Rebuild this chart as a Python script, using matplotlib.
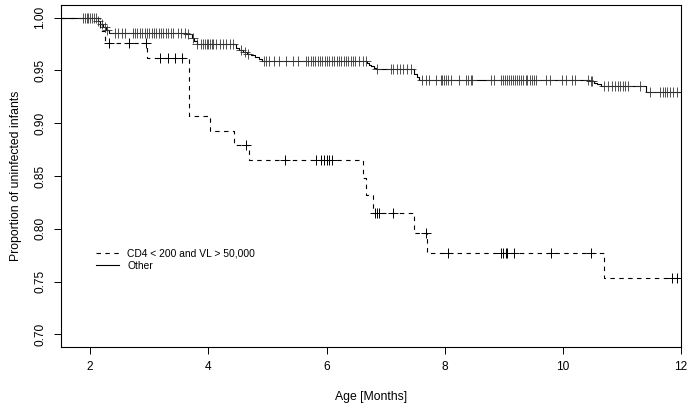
import numpy as np
import matplotlib
matplotlib.use("Agg")
import matplotlib.pyplot as plt

plt.rcParams['font.family'] = ['Liberation Sans', 'DejaVu Sans']

# ---- data ----
# Group "Other" (solid): step times and survival values
other_t = [1.5, 2.13, 2.17, 2.22, 2.27, 2.32, 3.45, 3.62, 3.72, 3.76, 3.80,
           4.46, 4.52, 4.58, 4.65, 4.72, 4.79, 4.86, 4.90,
           6.68, 6.72, 6.76, 6.80, 6.84, 7.48, 7.53, 7.57,
           10.45, 10.52, 10.58, 10.64, 11.40, 12.0]
other_s = [1.0, 0.997, 0.994, 0.991, 0.988, 0.9857, 0.9851, 0.9845, 0.981, 0.978, 0.9746,
           0.9716, 0.9690, 0.9675, 0.966, 0.9645, 0.9625, 0.9605, 0.9588,
           0.9572, 0.9556, 0.9540, 0.9525, 0.9509, 0.9462, 0.9438, 0.9414,
           0.9400, 0.9385, 0.9367, 0.9350, 0.9300, 0.9300]
other_cens = [1.88, 1.91, 1.94, 1.97, 2.00, 2.03, 2.06, 2.09, 2.13, 2.20, 2.25, 2.28,
              2.42, 2.47, 2.53, 2.59, 2.72, 2.76, 2.80, 2.84, 2.88, 2.92, 2.96, 3.00,
              3.04, 3.08, 3.12, 3.16, 3.20, 3.24, 3.28, 3.32, 3.36, 3.40, 3.48, 3.54,
              3.60, 3.66, 3.74, 3.80, 3.88, 3.91, 3.94, 3.97, 4.00, 4.03, 4.06, 4.08,
              4.13, 4.19, 4.25, 4.30, 4.36, 4.41, 4.56, 4.62, 4.67,
              4.94, 4.98, 5.03, 5.11, 5.20, 5.31, 5.43, 5.51,
              5.65, 5.69, 5.73, 5.77, 5.81, 5.85, 5.89, 5.93, 5.97, 6.01, 6.05, 6.09,
              6.13, 6.17, 6.21, 6.25, 6.29, 6.33, 6.37, 6.41, 6.44, 6.48, 6.55, 6.62, 6.67,
              6.86, 7.09, 7.13, 7.20, 7.25, 7.30, 7.36, 7.43,
              7.61, 7.68, 7.74, 7.85, 7.93, 7.96, 7.99, 8.02, 8.05, 8.10, 8.24,
              8.36, 8.40, 8.44, 8.47, 8.78, 8.84,
              8.95, 8.98, 9.02, 9.05, 9.09, 9.12, 9.16, 9.19, 9.23, 9.26, 9.30, 9.33,
              9.37, 9.40, 9.44, 9.47, 9.51, 9.54, 9.71, 9.79, 9.99, 10.05, 10.16, 10.21,
              10.43, 10.47, 10.50,
              10.69, 10.76, 10.83, 10.88, 10.93, 10.97, 11.02, 11.06, 11.11, 11.31,
              11.48, 11.65, 11.69, 11.73, 11.77, 11.81, 11.86, 11.93]

# Group "CD4 < 200 and VL > 50,000" (dashed)
cd4_t = [1.5, 2.16, 2.25, 2.96, 3.67, 4.02, 4.43, 4.68, 6.61, 6.66, 6.78,
         7.48, 7.70, 10.69, 12.0]
cd4_s = [1.0, 0.987, 0.9756, 0.9616, 0.9065, 0.893, 0.879, 0.8653, 0.848, 0.832, 0.8146,
         0.7956, 0.7766, 0.7529, 0.7529]
cd4_cens = [2.31, 2.65, 2.95, 3.18, 3.32, 3.43, 3.56, 4.63, 5.30,
            5.82, 5.90, 5.95, 6.00, 6.05, 6.10, 6.82, 6.85, 6.88, 7.12, 7.68, 8.06,
            8.95, 8.99, 9.03, 9.06, 9.17, 9.80, 10.47, 11.85, 11.93]

legend_labels = ["CD4 < 200 and VL > 50,000", "Other"]
x_ticks = [2, 4, 6, 8, 10, 12]
y_ticks = [0.70, 0.75, 0.80, 0.85, 0.90, 0.95, 1.00]


def surv_at(times, surv, pts):
    times = np.asarray(times)
    surv = np.asarray(surv)
    idx = np.searchsorted(times, np.asarray(pts), side='right') - 1
    return surv[idx]


fig = plt.figure(figsize=(6.91, 4.09), dpi=100)
ax = fig.add_axes([0.0878, 0.1516, 0.8977, 0.8362])

lw = 0.8
ax.step(cd4_t, cd4_s, where='post', color='black', lw=lw, linestyle=(0, (4, 4)),
        label=legend_labels[0])
ax.step(other_t, other_s, where='post', color='black', lw=lw, linestyle='-',
        label=legend_labels[1])
ax.plot(cd4_cens, surv_at(cd4_t, cd4_s, cd4_cens), linestyle='none', marker='+',
        markersize=7.5, markeredgewidth=0.7, color='black')
ax.plot(other_cens, surv_at(other_t, other_s, other_cens), linestyle='none', marker='+',
        markersize=7.5, markeredgewidth=0.6, color='#333333')

ax.set_xlim(1.5, 12)
ax.set_ylim(0.688, 1.012)
ax.set_xticks(x_ticks)
ax.set_xticklabels([str(v) for v in x_ticks])
ax.set_yticks(y_ticks)
ax.set_yticklabels([f"{v:.2f}" for v in y_ticks], rotation=90, va='center')
ax.tick_params(axis='both', direction='out', length=4.8, width=0.7, labelsize=8.6,
               pad=5.5)
for sp in ax.spines.values():
    sp.set_linewidth(0.8)

ax.set_xlabel("Age [Months]", fontsize=8.8, labelpad=13)
ax.set_ylabel("Proportion of uninfected infants", fontsize=8.8, labelpad=9)

leg = ax.legend(loc='upper left', bbox_to_anchor=(0.051, 0.30), frameon=False,
                fontsize=7.4, handlelength=2.2, handletextpad=0.8, labelspacing=0.25,
                borderaxespad=0)

fig.savefig("out.png", dpi=100)
